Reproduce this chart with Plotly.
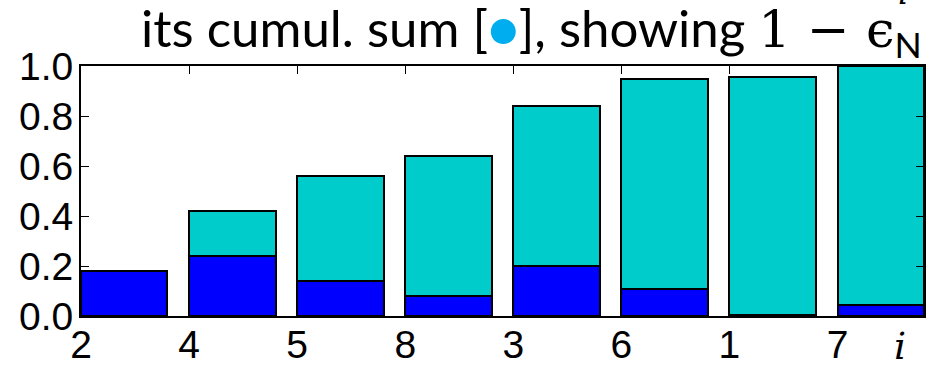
import plotly.graph_objects as go

# Component order (labels under each bar)
labels = ["2", "4", "5", "8", "3", "6", "1", "7"]
# Individual share of each component
share = [0.18, 0.24, 0.14, 0.08, 0.20, 0.11, 0.005, 0.045]
# Running total of the shares
cumul = [0.18, 0.42, 0.56, 0.64, 0.84, 0.95, 0.955, 1.00]
y_ticks = [0.0, 0.2, 0.4, 0.6, 0.8, 1.0]

pos = list(range(len(labels)))

fig = go.Figure()
fig.add_trace(go.Bar(
    x=pos, y=cumul, width=0.8, offset=0,
    marker=dict(color="#00CCCC", line=dict(color="black", width=2)),
    showlegend=False, hoverinfo="skip",
))
fig.add_trace(go.Bar(
    x=pos, y=share, width=0.8, offset=0,
    marker=dict(color="#0000FF", line=dict(color="black", width=2)),
    showlegend=False, hoverinfo="skip",
))

tick_font = dict(family="Liberation Sans, Arial, sans-serif", size=39, color="black")

fig.update_layout(
    width=941, height=371,
    margin=dict(l=81, r=17, t=66, b=55),
    paper_bgcolor="white", plot_bgcolor="white",
    barmode="overlay",
    bargap=0,
    xaxis=dict(
        range=[0, 7.8], tickmode="array", tickvals=pos, ticktext=labels,
        showgrid=False, zeroline=False, automargin=False,
        showline=True, linecolor="black", linewidth=2, mirror="ticks",
        ticks="inside", ticklen=8, tickwidth=1, tickcolor="black",
        tickfont=tick_font, ticklabelstandoff=-7,
    ),
    yaxis=dict(
        range=[0, 1.0], tickmode="array", tickvals=y_ticks,
        ticktext=[f"{v:.1f}" for v in y_ticks],
        showgrid=False, zeroline=False, automargin=False,
        showline=True, linecolor="black", linewidth=2, mirror="ticks",
        ticks="inside", ticklen=8, tickwidth=1, tickcolor="black",
        tickfont=tick_font, ticklabelstandoff=-2,
    ),
)

serif = "DejaVu Serif, Liberation Serif, serif"
title_html = (
    "its cumul. sum [<span style='color:#00AEEF'>●</span>], showing "
    f"<span style='font-family:{serif}'>1 − ϵ</span><sub>N</sub>"
)
fig.add_annotation(
    text=title_html, xref="paper", yref="paper", x=1.0, y=1.0,
    xanchor="right", yanchor="bottom", yshift=-2, showarrow=False,
    font=dict(family="Lato, sans-serif", size=51, color="black"),
)
# superscript index above the epsilon
fig.add_annotation(
    text="<i>i</i>", xref="paper", yref="paper", x=0.975, y=1.0,
    xanchor="center", yanchor="bottom", yshift=52, showarrow=False,
    font=dict(family=serif, size=32, color="black"),
)
# x-axis label
fig.add_annotation(
    text="<i>i</i>", xref="paper", yref="paper", x=0.972, y=0.0,
    xanchor="center", yanchor="top", yshift=-6, showarrow=False,
    font=dict(family=serif, size=38, color="black"),
)

fig.write_html("out.html")
